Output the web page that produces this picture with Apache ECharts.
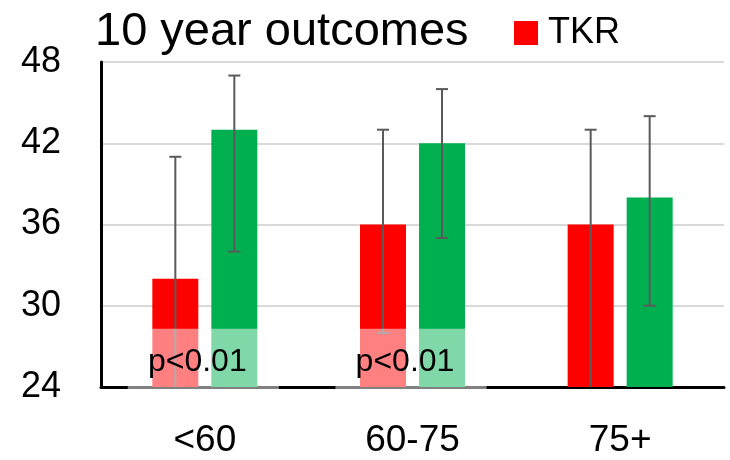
<!DOCTYPE html>
<html>
<head>
<meta charset="utf-8">
<script src="https://cdn.jsdelivr.net/npm/echarts@6/dist/echarts.min.js"></script>
<style>
  html, body { margin: 0; padding: 0; background: #fff; }
  #chart { width: 730px; height: 460px; }
</style>
</head>
<body>
<div id="chart"></div>
<script>
// data
const categories = ['<60', '60-75', '75+'];
const tkrValues = [32, 36, 36];
const tkrLow = [23, 28, 23];
const tkrHigh = [41, 43, 43];
const otherValues = [43, 42, 38];
const otherLow = [34, 35, 30];
const otherHigh = [47, 46, 44];
const yTicks = { min: 24, max: 48, step: 6 };
// p-value boxes: category index, top of the faded box, label
const pCats = [0, 1];
const pTop = [28.3, 28.3];
const pText = ['p<0.01', 'p<0.01'];

const FONT = '"Liberation Sans", Arial, sans-serif';
const BAR_W = 46;
const BAR_GAP = 13;

const chart = echarts.init(document.getElementById('chart'));

// whiskers, shifted left/right onto each bar of the pair
function errorSeries(name, low, high, side) {
  const data = categories.map((c, i) => [i, low[i], high[i]]);
  return {
    name: name,
    type: 'custom',
    z: 4,
    data: data,
    encode: { x: 0, y: [1, 2] },
    renderItem: function (params, api) {
      const off = side * (BAR_W + BAR_GAP) / 2;
      const x = api.coord([api.value(0), yTicks.min])[0] + off;
      const bottomY = api.coord([0, yTicks.min])[1];
      const lo = api.value(1), hi = api.value(2);
      const yHi = api.coord([0, hi])[1];
      const clipped = lo < yTicks.min;
      const yLo = clipped ? bottomY : api.coord([0, lo])[1];
      const st = { stroke: '#5a5a5a', lineWidth: 2 };
      const kids = [
        { type: 'line', shape: { x1: x, y1: yHi, x2: x, y2: yLo }, style: st },
        { type: 'line', shape: { x1: x - 6, y1: yHi, x2: x + 6, y2: yHi }, style: st }
      ];
      if (!clipped) {
        kids.push({ type: 'line', shape: { x1: x - 6, y1: yLo, x2: x + 6, y2: yLo }, style: st });
      }
      return { type: 'group', children: kids };
    }
  };
}

const option = {
  animation: false,
  backgroundColor: '#fff',
  title: {
    text: '10 year outcomes',
    left: 95,
    top: 9,
    padding: 0,
    textStyle: { fontFamily: FONT, fontSize: 47, fontWeight: 'normal', color: '#000', lineHeight: 47 }
  },
  legend: {
    data: ['TKR'],
    left: 514,
    top: 15,
    padding: 0,
    icon: 'rect',
    itemWidth: 24,
    itemHeight: 24,
    textStyle: { fontFamily: FONT, fontSize: 36, color: '#000', lineHeight: 24, padding: [0, 0, 0, 5] }
  },
  grid: { left: 101, right: 6, top: 62, bottom: 73, containLabel: false },
  xAxis: {
    type: 'category',
    data: categories,
    axisLine: { show: true, lineStyle: { color: '#000', width: 3 } },
    axisTick: { show: false },
    axisLabel: { fontFamily: FONT, fontSize: 37, color: '#000', margin: 35, lineHeight: 37 }
  },
  yAxis: {
    type: 'value',
    min: yTicks.min,
    max: yTicks.max,
    interval: yTicks.step,
    axisLine: { show: true, lineStyle: { color: '#000', width: 3 } },
    axisTick: { show: false },
    axisLabel: { fontFamily: FONT, fontSize: 36, color: '#000', margin: 40 },
    splitLine: { lineStyle: { color: '#d9d9d9', width: 2 } }
  },
  series: [
    {
      name: 'TKR',
      type: 'bar',
      data: tkrValues,
      barWidth: BAR_W,
      barGap: (BAR_GAP / BAR_W * 100).toFixed(1) + '%',
      itemStyle: { color: '#ff0000' }
    },
    {
      name: 'comparison',
      type: 'bar',
      data: otherValues,
      barWidth: BAR_W,
      itemStyle: { color: '#00b050' }
    },
    errorSeries('TKR err', tkrLow, tkrHigh, -1),
    errorSeries('comparison err', otherLow, otherHigh, 1),
    {
      name: 'p boxes',
      type: 'custom',
      z: 6,
      data: pCats.map((c, i) => [c, pTop[i], pText[i]]),
      encode: { x: 0, y: 1 },
      renderItem: function (params, api) {
        const band = api.size([1, 0])[0];
        const cx = api.coord([api.value(0), yTicks.min])[0] - 1.5;
        const yTop = api.coord([0, api.value(1)])[1];
        const yBot = api.coord([0, yTicks.min])[1] + 3;
        const half = band * 0.364;
        return {
          type: 'group',
          children: [
            {
              type: 'rect',
              shape: { x: cx - half, y: yTop, width: half * 2, height: yBot - yTop },
              style: { fill: 'rgba(255,255,255,0.5)' }
            },
            {
              type: 'text',
              x: cx - 6,
              y: yBot - 28,
              style: {
                text: pText[params.dataIndex],
                fill: '#000',
                font: '32px ' + FONT,
                align: 'center',
                verticalAlign: 'middle'
              }
            }
          ]
        };
      }
    }
  ]
};

chart.setOption(option);
</script>
</body>
</html>
